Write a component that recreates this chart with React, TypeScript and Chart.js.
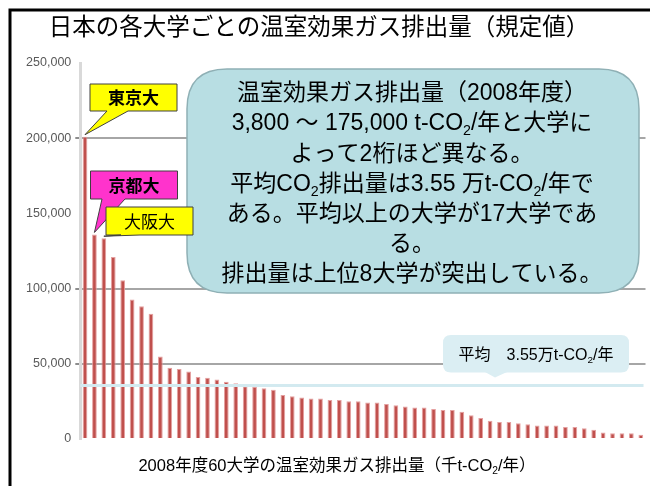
import React, { useEffect, useRef } from "react";
import { Chart, registerables } from "chart.js";

Chart.register(...registerables);

// ---- data ----
const RANKS = [
  "1", "2", "3", "4", "5", "6", "7", "8", "9", "10",
  "11", "12", "13", "14", "15", "16", "17", "18", "19", "20",
  "21", "22", "23", "24", "25", "26", "27", "28", "29", "30",
  "31", "32", "33", "34", "35", "36", "37", "38", "39", "40",
  "41", "42", "43", "44", "45", "46", "47", "48", "49", "50",
  "51", "52", "53", "54", "55", "56", "57", "58", "59", "60",
];
const EMISSIONS = [
  201000, 136000, 133500, 121000, 105500, 92700, 88200, 83300, 54900, 47300,
  46600, 44800, 41300, 40700, 39500, 38000, 37100, 35000, 34700, 33800,
  32700, 29300, 28500, 27600, 26900, 26900, 26000, 26000, 25100, 25100,
  24200, 24200, 23300, 22400, 21600, 20900, 20900, 20000, 19300, 19300,
  18200, 15800, 13900, 12200, 11300, 11300, 10400, 9800, 8900, 8900,
  8900, 8000, 8000, 7100, 6200, 4400, 3800, 3800, 3800, 2900,
];
const AVERAGE = 35500;
const Y_MIN = 0;
const Y_MAX = 250000;
const Y_STEP = 50000;
const VISIBLE_GRID = [50000, 100000, 200000];

const TITLE = "日本の各大学ごとの温室効果ガス排出量（規定値）";
type Part = [string, boolean];
const X_TITLE: Part[] = [["2008年度60大学の温室効果ガス排出量（千t-CO", false], ["2", true], ["/年）", false]];
const AVG_LABEL: Part[] = [["平均　3.55万t-CO", false], ["2", true], ["/年", false]];
const NOTE_LINES: Part[][] = [
  [["温室効果ガス排出量（2008年度）", false]],
  [["3,800 ～ 175,000 t-CO", false], ["2", true], ["/年と大学に", false]],
  [["よって2桁ほど異なる。", false]],
  [["平均CO", false], ["2", true], ["排出量は3.55 万t-CO", false], ["2", true], ["/年で", false]],
  [["ある。平均以上の大学が17大学であ", false]],
  [["る。", false]],
  [["排出量は上位8大学が突出している。", false]],
];
const CALLOUTS = [
  { text: "東京大", index: 0, fill: "#ffff00", bold: true },
  { text: "京都大", index: 1, fill: "#ff33cc", bold: true },
  { text: "大阪大", index: 2, fill: "#ffff00", bold: false },
];

const FAMILY = "'Liberation Sans', 'Noto Sans CJK JP', sans-serif";

function richWidth(ctx: CanvasRenderingContext2D, parts: Part[], size: number, weight: string) {
  let w = 0;
  for (const [t, sub] of parts) {
    ctx.font = `${weight} ${sub ? size * 0.62 : size}px ${FAMILY}`;
    w += ctx.measureText(t).width;
  }
  return w;
}

function drawRich(
  ctx: CanvasRenderingContext2D,
  parts: Part[],
  cx: number,
  cy: number,
  size: number,
  color = "#000",
  weight = "normal"
) {
  const total = richWidth(ctx, parts, size, weight);
  let x = cx - total / 2;
  const base = cy + size * 0.36;
  ctx.fillStyle = color;
  ctx.textAlign = "left";
  ctx.textBaseline = "alphabetic";
  for (const [t, sub] of parts) {
    const s = sub ? size * 0.62 : size;
    ctx.font = `${weight} ${s}px ${FAMILY}`;
    ctx.fillText(t, x, sub ? base + size * 0.2 : base);
    x += ctx.measureText(t).width;
  }
}

function rrect(ctx: CanvasRenderingContext2D, x: number, y: number, w: number, h: number, r: number) {
  ctx.beginPath();
  ctx.moveTo(x + r, y);
  ctx.lineTo(x + w - r, y);
  ctx.quadraticCurveTo(x + w, y, x + w, y + r);
  ctx.lineTo(x + w, y + h - r);
  ctx.quadraticCurveTo(x + w, y + h, x + w - r, y + h);
  ctx.lineTo(x + r, y + h);
  ctx.quadraticCurveTo(x, y + h, x, y + h - r);
  ctx.lineTo(x, y + r);
  ctx.quadraticCurveTo(x, y, x + r, y);
  ctx.closePath();
}

const BOXES = [
  { x: 90, y: 84, w: 87, h: 27, b1: 107, b2: 128 },
  { x: 90.5, y: 171, w: 87, h: 28, b1: 102, b2: 125 },
  { x: 106, y: 207, w: 87, h: 28, b1: 121, b2: 140 },
];

const overlayPlugin = {
  id: "overlay",
  afterDraw(chart: any) {
    const ctx: CanvasRenderingContext2D = chart.ctx;
    const yScale = chart.scales.y;
    const area = chart.chartArea;
    const meta = chart.getDatasetMeta(0);
    ctx.save();

    // average line
    const ay = yScale.getPixelForValue(AVERAGE);
    ctx.strokeStyle = "#d3eaf0";
    ctx.lineWidth = 3;
    ctx.beginPath();
    ctx.moveTo(area.left, ay);
    ctx.lineTo(area.right - 2, ay);
    ctx.stroke();

    // average label box
    ctx.fillStyle = "#dbeef3";
    rrect(ctx, 443, 335, 186, 37.5, 8);
    ctx.fill();
    ctx.beginPath();
    ctx.moveTo(485, 372);
    ctx.lineTo(495, ay - 8);
    ctx.lineTo(507, 372);
    ctx.closePath();
    ctx.fill();
    drawRich(ctx, AVG_LABEL, 536, 354, 16);

    // big note
    rrect(ctx, 187, 69, 452, 224, 40);
    ctx.fillStyle = "#b8dee3";
    ctx.fill();
    ctx.strokeStyle = "#8fb0b5";
    ctx.lineWidth = 1.5;
    ctx.stroke();
    const lineYs = [92, 122, 153, 183, 213, 243, 273];
    NOTE_LINES.forEach((ln, i) => drawRich(ctx, ln, 412, lineYs[i], 23));

    // university callouts
    CALLOUTS.forEach((c, i) => {
      const b = BOXES[i];
      const bar = meta.data[c.index];
      const tx = bar.x;
      const ty = bar.y - 2;
      ctx.beginPath();
      ctx.moveTo(b.x, b.y);
      ctx.lineTo(b.x + b.w, b.y);
      ctx.lineTo(b.x + b.w, b.y + b.h);
      ctx.lineTo(b.b2, b.y + b.h);
      ctx.lineTo(tx, ty);
      ctx.lineTo(b.b1, b.y + b.h);
      ctx.lineTo(b.x, b.y + b.h);
      ctx.closePath();
      ctx.fillStyle = c.fill;
      ctx.fill();
      ctx.strokeStyle = "#404040";
      ctx.lineWidth = 1;
      ctx.stroke();
      drawRich(ctx, [[c.text, false]], b.x + b.w / 2, b.y + b.h / 2 + 0.5, 17, "#000", c.bold ? "bold" : "normal");
    });

    // frame
    ctx.strokeStyle = "#000";
    ctx.lineWidth = 3;
    ctx.beginPath();
    ctx.moveTo(10, 486);
    ctx.lineTo(10, 10);
    ctx.lineTo(650, 10);
    ctx.stroke();

    // titles
    drawRich(ctx, [[TITLE, false]], 319, 27, 23.5);
    drawRich(ctx, X_TITLE, 337, 465, 16.5);

    ctx.restore();
  },
};

export default function App() {
  const ref = useRef<HTMLCanvasElement>(null);
  useEffect(() => {
    if (!ref.current) return;
    const chart = new Chart(ref.current, {
      type: "bar",
      data: {
        labels: RANKS,
        datasets: [
          {
            data: EMISSIONS,
            backgroundColor: "#c0504d",
            borderColor: "rgba(226,150,150,0.9)",
            borderWidth: 1,
            barPercentage: 0.5,
            categoryPercentage: 1,
          },
        ],
      },
      options: {
        animation: false,
        responsive: false,
        layout: { padding: { left: 10.3, right: 4.5, top: 63, bottom: 47 } },
        plugins: { legend: { display: false }, tooltip: { enabled: false }, title: { display: false } },
        scales: {
          x: { display: false },
          y: {
            min: Y_MIN,
            max: Y_MAX,
            afterFit: (s: any) => {
              s.width = 70;
            },
            ticks: {
              stepSize: Y_STEP,
              color: "#595959",
              padding: 4,
              font: { size: 12.5, family: "'Liberation Sans', sans-serif" },
              callback: (v: any) => Number(v).toLocaleString("en-US"),
            },
            grid: {
              color: (c: any) => (VISIBLE_GRID.includes(c.tick?.value) ? "#a6a6a6" : "rgba(0,0,0,0)"),
              tickColor: (c: any) => (VISIBLE_GRID.includes(c.tick?.value) ? "#8c8c8c" : "rgba(0,0,0,0)"),
              lineWidth: 2,
              tickLength: 5,
            },
            border: { display: true, color: "#d9d9d9", width: 3 },
          },
        },
      },
      plugins: [overlayPlugin],
    });
    return () => chart.destroy();
  }, []);
  return (
    <div style={{ position: "absolute", left: 0, top: 0, width: 650, height: 486, background: "#fff" }}>
      <canvas ref={ref} width={650} height={486} />
    </div>
  );
}
